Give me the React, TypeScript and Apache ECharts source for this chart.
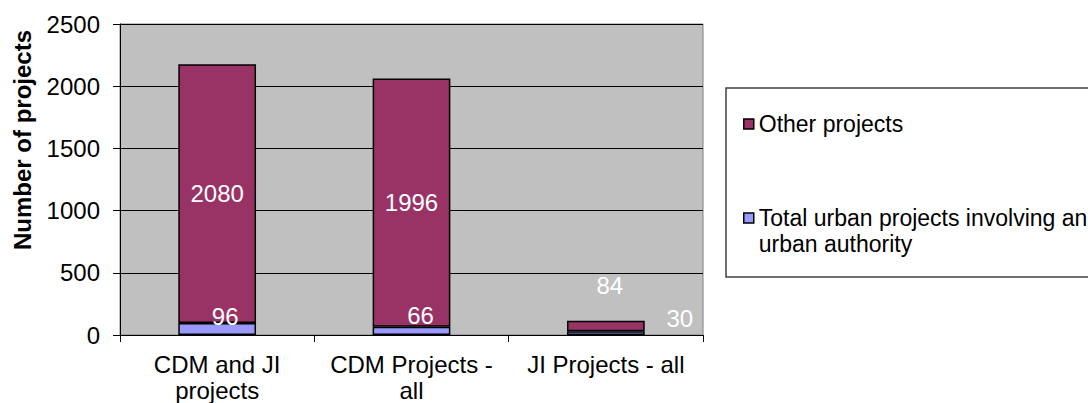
import React, { useEffect, useRef } from "react";
import * as echarts from "echarts";

const categories = ["CDM and JI\nprojects", "CDM Projects -\nall", "JI Projects - all"];
const urbanValues = [96, 66, 30];
const otherValues = [2080, 1996, 84];
const yTicks = [0, 500, 1000, 1500, 2000, 2500];

const URBAN = "Total urban projects involving an urban authority";
const OTHER = "Other projects";
const FONT = "'Liberation Sans', Arial, sans-serif";

// label offsets (layout only)
const urbanLabelOffsets = [[8, -13], [9, -15], [74, -15]];
const otherLabelOffsets = [[0, 0], [0, 0], [4, -41]];

export default function App() {
  const ref = useRef<HTMLDivElement>(null);
  useEffect(() => {
    const chart = echarts.init(ref.current!, null, { renderer: "svg" });
    const labelBase = {
      show: true,
      position: "inside",
      color: "#ffffff",
      fontFamily: FONT,
      fontSize: 24,
    };
    chart.setOption({
      animation: false,
      backgroundColor: "#ffffff",
      textStyle: { fontFamily: FONT },
      grid: {
        left: 120,
        right: 385,
        top: 24,
        bottom: 65,
        show: true,
        backgroundColor: "#C0C0C0",
        borderColor: "#808080",
        borderWidth: 1,
      },
      xAxis: {
        type: "category",
        data: categories,
        axisLine: { lineStyle: { color: "#000", width: 1 } },
        axisTick: { show: true, length: 7, lineStyle: { color: "#000" } },
        axisLabel: {
          color: "#000",
          fontSize: 24,
          lineHeight: 26,
          margin: 16,
          interval: 0,
          fontFamily: FONT,
        },
      },
      yAxis: {
        type: "value",
        min: yTicks[0],
        max: yTicks[yTicks.length - 1],
        interval: 500,
        axisLine: { show: true, lineStyle: { color: "#000", width: 1 } },
        axisTick: { show: true, length: 7, lineStyle: { color: "#000" } },
        splitLine: { show: true, lineStyle: { color: "#000", width: 1 } },
        axisLabel: {
          color: "#000",
          fontSize: 24,
          margin: 20,
          fontFamily: FONT,
          formatter: (v: number) => String(v),
        },
      },
      legend: [
        {
          data: [OTHER],
          orient: "vertical",
          left: 743,
          top: 111,
          padding: 0,
          itemWidth: 10,
          itemHeight: 10,
          icon: "rect",
          itemStyle: { borderColor: "#000", borderWidth: 1.5 },
          textStyle: { color: "#000", fontSize: 23, lineHeight: 26, fontFamily: FONT },
          z: 5,
        },
        {
          data: [URBAN],
          orient: "vertical",
          left: 743,
          top: 179,
          padding: 0,
          itemWidth: 10,
          itemHeight: 10,
          icon: "rect",
          itemStyle: { borderColor: "#000", borderWidth: 1.5 },
          formatter: (n: string) =>
            n === URBAN ? " \nTotal urban projects involving an\nurban authority" : n,
          textStyle: { color: "#000", fontSize: 23, lineHeight: 26, fontFamily: FONT },
          z: 5,
        },
      ],
      graphic: [
        {
          type: "rect",
          z: 0,
          shape: { x: 726, y: 88, width: 420, height: 189 },
          style: { fill: "#ffffff", stroke: "#404040", lineWidth: 1.5 },
        },
        {
          type: "text",
          x: 22,
          y: 140,
          rotation: Math.PI / 2,
          style: {
            text: "Number of projects",
            fontFamily: FONT,
            fontSize: 24,
            fontWeight: "bold",
            fill: "#000",
            align: "center",
            verticalAlign: "middle",
          },
        },
      ],
      series: [
        {
          name: URBAN,
          type: "bar",
          stack: "total",
          barWidth: "40%",
          itemStyle: { color: "#9999FF", borderColor: "#000", borderWidth: 1.5 },
          data: urbanValues.map((v, i) => ({
            value: v,
            label: { ...labelBase, offset: urbanLabelOffsets[i] },
          })),
          label: labelBase,
        },
        {
          name: OTHER,
          type: "bar",
          stack: "total",
          barWidth: "40%",
          itemStyle: { color: "#993366", borderColor: "#000", borderWidth: 1.5 },
          data: otherValues.map((v, i) => ({
            value: v,
            label: { ...labelBase, offset: otherLabelOffsets[i] },
          })),
          label: labelBase,
        },
      ],
    });
    return () => chart.dispose();
  }, []);
  return (
    <div
      ref={ref}
      style={{ position: "fixed", left: 0, top: 0, width: 1088, height: 403 }}
    />
  );
}
